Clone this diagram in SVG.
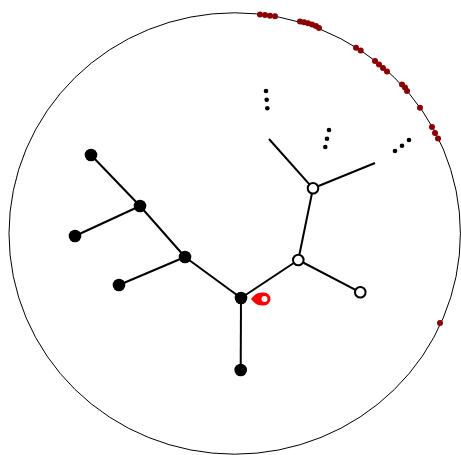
<svg xmlns="http://www.w3.org/2000/svg" width="461" height="455" viewBox="0 0 461 455">
<style>
.edge{stroke:#000;stroke-width:2;fill:none}
.full{fill:#000}
.open{fill:#fff;stroke:#000;stroke-width:2}
.dot{fill:#000}
.rd{fill:#8b0000}
</style>
<rect width="461" height="455" fill="#fff"/>
<ellipse cx="234.7" cy="233.5" rx="225.7" ry="220.7" fill="none" stroke="#000" stroke-width="1"/>
<g id="connectors">
<line class="edge" x1="91" y1="155" x2="140" y2="206"/>
<line class="edge" x1="140" y1="206" x2="185" y2="257"/>
<line class="edge" x1="185" y1="257" x2="241" y2="298"/>
<line class="edge" x1="140" y1="206" x2="75" y2="236"/>
<line class="edge" x1="185" y1="257" x2="119" y2="285"/>
<line class="edge" x1="241" y1="298" x2="240.7" y2="370"/>
<line class="edge" x1="241" y1="298" x2="298.3" y2="260"/>
<line class="edge" x1="298.3" y1="260" x2="313" y2="188.3"/>
<line class="edge" x1="298.3" y1="260" x2="360.3" y2="292.3"/>
<line class="edge" x1="313" y1="188.3" x2="269" y2="139"/>
<line class="edge" x1="313" y1="188.3" x2="375" y2="163"/>
</g>
<g id="n1"><circle class="full" cx="91" cy="155" r="6.3"/></g>
<g id="n2"><circle class="full" cx="140" cy="206" r="6.3"/></g>
<g id="n3"><circle class="full" cx="75" cy="236" r="6.3"/></g>
<g id="n4"><circle class="full" cx="185" cy="257" r="6.3"/></g>
<g id="n5"><circle class="full" cx="119" cy="285" r="6.3"/></g>
<g id="n6"><circle class="full" cx="241" cy="298" r="6.3"/></g>
<g id="n7"><circle class="full" cx="240.7" cy="370" r="6.3"/></g>
<g id="n8"><circle class="open" cx="298.3" cy="260" r="5.3"/></g>
<g id="n9"><circle class="open" cx="313" cy="188.3" r="5.3"/></g>
<g id="n10"><circle class="open" cx="360.3" cy="292.3" r="5.3"/></g>
<g id="marker">
<path d="M251,299 C256,293 258,292.5 264,292.5 A6.5,6.5 0 0 1 264,305.5 C258,305.5 256,305 251,299 Z" fill="#f00"/>
<circle cx="264.5" cy="299" r="3" fill="#fff"/>
</g>
<g id="ellipses">
<circle class="dot" cx="266" cy="91" r="2.3"/>
<circle class="dot" cx="266.7" cy="99.7" r="2.3"/>
<circle class="dot" cx="267.3" cy="108.3" r="2.3"/>
<circle class="dot" cx="329" cy="130" r="2.3"/>
<circle class="dot" cx="327" cy="138.7" r="2.3"/>
<circle class="dot" cx="325.3" cy="147" r="2.3"/>
<circle class="dot" cx="395" cy="151" r="2.3"/>
<circle class="dot" cx="402" cy="145.7" r="2.3"/>
<circle class="dot" cx="409" cy="140" r="2.3"/>
</g>
<g id="rim">
<circle class="rd" cx="260" cy="14.5" r="3"/>
<circle class="rd" cx="265" cy="15" r="3"/>
<circle class="rd" cx="270" cy="15.8" r="3"/>
<circle class="rd" cx="275" cy="16.3" r="3"/>
<circle class="rd" cx="300" cy="21.5" r="3"/>
<circle class="rd" cx="304" cy="22.3" r="3"/>
<circle class="rd" cx="308" cy="23.3" r="3"/>
<circle class="rd" cx="312" cy="24.5" r="3"/>
<circle class="rd" cx="316" cy="26" r="3"/>
<circle class="rd" cx="319" cy="28" r="3"/>
<circle class="rd" cx="356" cy="47.8" r="3"/>
<circle class="rd" cx="360.7" cy="50.5" r="3"/>
<circle class="rd" cx="375" cy="61" r="3"/>
<circle class="rd" cx="379" cy="64.5" r="3"/>
<circle class="rd" cx="383" cy="68" r="3"/>
<circle class="rd" cx="387" cy="71.5" r="3"/>
<circle class="rd" cx="402" cy="84.5" r="3"/>
<circle class="rd" cx="405" cy="87.5" r="3"/>
<circle class="rd" cx="407" cy="91" r="3"/>
<circle class="rd" cx="420" cy="107.8" r="3"/>
<circle class="rd" cx="432" cy="127" r="3"/>
<circle class="rd" cx="435" cy="133" r="3"/>
<circle class="rd" cx="438" cy="138.5" r="3"/>
<circle class="rd" cx="440" cy="323" r="3"/>
</g>
</svg>
